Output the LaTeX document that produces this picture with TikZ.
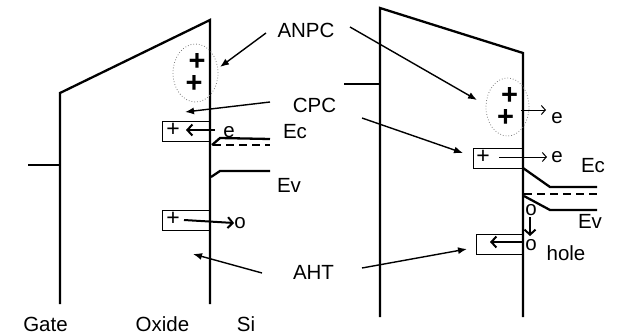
\documentclass[tikz,border=0pt]{standalone}
\usepackage{fontspec}
\setmainfont{Liberation Sans}
\usetikzlibrary{arrows.meta,shapes.geometric}

\begin{document}
\begin{tikzpicture}[
  x=1pt, y=-1pt,
  font=\fontsize{20.5}{24}\selectfont,
  band/.style   ={line width=2.3pt},
  fermi/.style  ={line width=2pt, dash pattern=on 8pt off 5pt},
  lead/.style   ={-{Latex[length=9pt,width=7pt]}, line width=1.4pt},
  hop/.style    ={-{Straight Barb[length=5pt,width=11pt]}, line width=2pt},
  hopthin/.style={-{Straight Barb[length=4pt,width=9pt]}, line width=1pt},
  trap/.style   ={draw, line width=0.8pt, inner sep=0pt},
  cluster/.style={draw=gray, dotted, line width=0.8pt, ellipse, inner sep=0pt,
                  align=left, font=\fontsize{29}{22}\selectfont\bfseries},
  lbl/.style    ={inner sep=0pt, anchor=base},
  pls/.style    ={inner sep=0pt, font=\fontsize{23}{23}\selectfont},
]
\useasboundingbox (0,0) rectangle (624,335);

% ==================== LEFT: before ====================
\draw[band] (28,165) -- (60,165);
\draw[band] (60,304) -- (60,93) -- (210,20) -- (210,304);

% bands in Si
\draw[band] (212,145) -- (220,138) -- (270,139);
\draw[fermi] (213,145) -- (270,145);
\draw[band] (211,177) -- (220,171) -- (270,171);

% oxide charges
\node[cluster, minimum width=45pt, minimum height=58pt] (anpcA) at (195.5,73) {\hspace*{3pt}+\\+};

\node[trap, minimum width=47pt, minimum height=20pt] (cpcA) at (185.5,131) {};
\node[pls] (cpcAp) at (173,130) {+};
\node[lbl] (eA) at (229,137) {e};
\draw[hop] (215,130) -- (186,130);

\node[trap, minimum width=47pt, minimum height=20pt] (ahtA) at (185.5,220) {};
\node[pls] (ahtAp) at (173,219) {+};
\node[inner sep=0pt] (hA) at (240,223) {o};
\draw[hop] (184,220) -- (hA.west);

% ==================== RIGHT: after ====================
\draw[band] (344,84) -- (380,84);
\draw[band] (380,317) -- (380,8) -- (523,53) -- (523,317);

\draw[band] (523,168) -- (550,187) -- (597,187);
\draw[fermi] (524,194) -- (597,194);
\draw[band] (524,196) -- (550,210) -- (597,210);

\node[cluster, minimum width=43pt, minimum height=58pt] (anpcB) at (507.5,107) {\hspace*{4pt}+\\+};
\node[lbl] (eB1) at (557,123) {e};
\draw[hopthin] (521,110) -- (546,110);

\node[trap, minimum width=50pt, minimum height=20pt] (cpcB) at (498,158) {};
\node[pls] (cpcBp) at (483,157) {+};
\node[lbl] (eB2) at (557,162) {e};
\draw[hopthin] (499,157) -- (547,157);

\node[inner sep=0pt] (hB1) at (531,210) {o};
\node[inner sep=0pt] (hB2) at (531,245) {o};
\draw[hop] (530,217) -- (530,236);
\node[trap, minimum width=47pt, minimum height=20pt] (ahtB) at (499.5,244) {};
\draw[hop] (523,242) -- (490,242);
\node[lbl] (hole) at (566,260) {hole};

% ==================== labels in the middle ====================
\node[lbl] (anpc) at (306,37) {ANPC};
\node[lbl] (cpc)  at (314.5,112) {CPC};
\node[lbl] (ecA)  at (295,138) {Ec};
\node[lbl] (evA)  at (289,192) {Ev};
\node[lbl] (aht)  at (313.5,279) {AHT};
\node[lbl] (ecB)  at (593,172) {Ec};
\node[lbl] (evB)  at (590,228) {Ev};

\node[lbl] (gate)  at (45.5,331) {Gate};
\node[lbl] (oxide) at (162.5,331) {Oxide};
\node[lbl] (si)    at (246,331) {Si};

\coordinate (anpcL) at (266,33);  \coordinate (anpcR) at (350,27);
\coordinate (cpcL)  at (270,102); \coordinate (cpcR)  at (362,118);
\coordinate (ahtL)  at (262,273); \coordinate (ahtR)  at (362,268);

\draw[lead] (anpcL) -- (220,67);
\draw[lead] (anpcR) -- (477,100);
\draw[lead] (cpcL) -- (185,112);
\draw[lead] (cpcR) -- (463,153);
\draw[lead] (ahtL) -- (193,254);
\draw[lead] (ahtR) -- (467,249);

\end{tikzpicture}
\end{document}
